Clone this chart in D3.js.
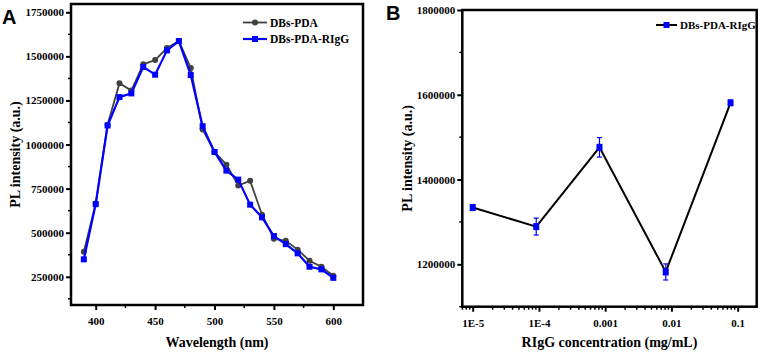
<!DOCTYPE html>
<html><head><meta charset="utf-8">
<script src="https://cdn.jsdelivr.net/npm/d3@7"></script>
<style>
body{margin:0;background:#fff;}
svg{display:block;}
</style></head>
<body><svg id="c" width="761" height="355"></svg>
<script>
// ---- Panel A data ----
const wavelengths = [390,400,410,420,430,440,450,460,470,480,490,500,510,520,530,540,550,560,570,580,590,600];
const dbsPDA      = [392000,666000,1112000,1348000,1306000,1455000,1479000,1547000,1587000,1434000,1085000,958000,886000,768000,794000,602000,466000,454000,404000,341000,307000,256000];
const dbsPDARIgG  = [349000,662000,1108000,1269000,1290000,1440000,1396000,1534000,1587000,1394000,1104000,958000,852000,801000,659000,587000,481000,435000,383000,307000,292000,244000];
const yTicksA = [250000,500000,750000,1000000,1250000,1500000,1750000];
const xTicksA = [400,450,500,550,600];
const seriesNamesA = ["DBs-PDA","DBs-PDA-RIgG"];

// ---- Panel B data ----
const concentrations = [1.0e-5, 9.1e-5, 8.2e-4, 8.2e-3, 7.8e-2];
const intensityB     = [1334000, 1289000, 1476000, 1182000, 1581000];
const errorB         = [7000, 20000, 23000, 19000, 6000];
const yTicksB = [1200000,1400000,1600000,1800000];
const xTicksB = [1e-5,1e-4,1e-3,1e-2,1e-1];
const xTickLabelsB = ["1E-5","1E-4","0.001","0.01","0.1"];
const seriesNameB = "DBs-PDA-RIgG";

const svg = d3.select("#c");
const SERIF = "'Liberation Serif', 'Times New Roman', serif";
const GRAY = "#404040", BLUE = "#0000ff";

function serifText(sel, size){
  return sel.style("font-family",SERIF).style("font-weight","bold").style("font-size",size+"px").attr("fill","#000");
}
function styleAxis(g){
  g.select(".domain").remove();
  g.selectAll(".tick line").attr("stroke","#000").attr("stroke-width",2);
  serifText(g.selectAll(".tick text"), 11);
}
function minorTicks(g, vals, scale, orient, len){
  g.selectAll(null).data(vals).enter().append("line")
    .attr("stroke","#000").attr("stroke-width",1.5)
    .each(function(d){
      const s=d3.select(this);
      if(orient==="left"){ s.attr("x1",0).attr("x2",-len).attr("y1",scale(d)).attr("y2",scale(d)); }
      else { s.attr("y1",0).attr("y2",len).attr("x1",scale(d)).attr("x2",scale(d)); }
    });
}

// ================= Panel A =================
const A = {l:71, r:363, t:4, b:305};
const xA = d3.scaleLinear().domain([379.2,625]).range([A.l,A.r]);
const yA = d3.scaleLinear().domain([90000,1797000]).range([A.b,A.t]);

const gA = svg.append("g");
const ayA = gA.append("g").attr("transform",`translate(${A.l},0)`)
  .call(d3.axisLeft(yA).tickValues(yTicksA).tickSize(5).tickPadding(2).tickFormat(d3.format("d")));
styleAxis(ayA);
minorTicks(ayA, d3.range(125000,1797000,250000), yA, "left", 3);
const axA = gA.append("g").attr("transform",`translate(0,${A.b})`)
  .call(d3.axisBottom(xA).tickValues(xTicksA).tickSize(5).tickPadding(7));
styleAxis(axA);
minorTicks(axA, [425,475,525,575], xA, "bottom", 3);

const lineA = (vals)=>d3.line().x((d,i)=>xA(wavelengths[i])).y(d=>yA(d))(vals);
gA.append("path").attr("d",lineA(dbsPDA)).attr("fill","none").attr("stroke",GRAY).attr("stroke-width",1.8);
gA.selectAll(null).data(dbsPDA).enter().append("circle")
  .attr("cx",(d,i)=>xA(wavelengths[i])).attr("cy",d=>yA(d)).attr("r",3).attr("fill",GRAY);
gA.append("path").attr("d",lineA(dbsPDARIgG)).attr("fill","none").attr("stroke",BLUE).attr("stroke-width",2.2);
gA.selectAll(null).data(dbsPDARIgG).enter().append("rect")
  .attr("x",(d,i)=>xA(wavelengths[i])-3).attr("y",d=>yA(d)-3).attr("width",6).attr("height",6).attr("fill",BLUE);

gA.append("rect").attr("x",A.l).attr("y",A.t).attr("width",A.r-A.l).attr("height",A.b-A.t)
  .attr("fill","none").attr("stroke","#000").attr("stroke-width",2.5);

const legA = gA.append("g");
[[seriesNamesA[0],GRAY,"c",22.5],[seriesNamesA[1],BLUE,"s",39]].forEach(([name,col,m,y])=>{
  legA.append("line").attr("x1",243).attr("x2",267).attr("y1",y).attr("y2",y).attr("stroke",col).attr("stroke-width",m==="c"?1.8:2.2);
  if(m==="c") legA.append("circle").attr("cx",255).attr("cy",y).attr("r",3).attr("fill",col);
  else legA.append("rect").attr("x",252).attr("y",y-3).attr("width",6).attr("height",6).attr("fill",col);
  serifText(legA.append("text").attr("x",270).attr("y",y+4).text(name), 11.5);
});

serifText(gA.append("text").attr("x",(A.l+A.r)/2).attr("y",347).attr("text-anchor","middle").text("Wavelength (nm)"), 14);
serifText(gA.append("text").attr("transform",`translate(20,${(A.t+A.b)/2}) rotate(-90)`).attr("text-anchor","middle").text("PL intensity (a.u.)"), 14);
gA.append("text").attr("x",2).attr("y",24).style("font-family","'Liberation Sans', Arial, sans-serif")
  .style("font-weight","bold").style("font-size","20px").text("A");

// ================= Panel B =================
const B = {l:462.3, r:756.7, t:10, b:306.7};
const xB = d3.scaleLog().domain([Math.pow(10,-5.157),Math.pow(10,-0.713)]).range([B.l,B.r]);
const yB = d3.scaleLinear().domain([1100000,1800000]).range([B.b,B.t]);
const gB = svg.append("g");

const ayB = gB.append("g").attr("transform",`translate(${B.l},0)`)
  .call(d3.axisLeft(yB).tickValues(yTicksB).tickSize(5).tickPadding(2).tickFormat(d3.format("d")));
styleAxis(ayB);
minorTicks(ayB, [1100000,1300000,1500000,1700000], yB, "left", 3);
const axB = gB.append("g").attr("transform",`translate(0,${B.b})`)
  .call(d3.axisBottom(xB).tickValues(xTicksB).tickSize(5).tickPadding(8).tickFormat((d,i)=>xTickLabelsB[i]));
styleAxis(axB);
const minorB = [];
[-6,-5,-4,-3,-2,-1].forEach(e=>{ for(let k=2;k<=9;k++){ const v=k*Math.pow(10,e); if(v>xB.domain()[0]&&v<xB.domain()[1]) minorB.push(v);} });
minorTicks(axB, minorB, xB, "bottom", 3);

gB.append("path").attr("d",d3.line().x((d,i)=>xB(concentrations[i])).y(d=>yB(d))(intensityB))
  .attr("fill","none").attr("stroke","#000").attr("stroke-width",2);
const eb = gB.selectAll(null).data(intensityB).enter().append("g");
eb.append("line").attr("x1",(d,i)=>xB(concentrations[i])).attr("x2",(d,i)=>xB(concentrations[i]))
  .attr("y1",(d,i)=>yB(d-errorB[i])).attr("y2",(d,i)=>yB(d+errorB[i])).attr("stroke",BLUE).attr("stroke-width",1.2);
[1,-1].forEach(sg=>{
  eb.append("line").attr("x1",(d,i)=>xB(concentrations[i])-2.5).attr("x2",(d,i)=>xB(concentrations[i])+2.5)
    .attr("y1",(d,i)=>yB(d+sg*errorB[i])).attr("y2",(d,i)=>yB(d+sg*errorB[i])).attr("stroke",BLUE).attr("stroke-width",1.2);
});
gB.selectAll(null).data(intensityB).enter().append("rect")
  .attr("x",(d,i)=>xB(concentrations[i])-3).attr("y",d=>yB(d)-3.5).attr("width",6).attr("height",7).attr("fill",BLUE);

gB.append("rect").attr("x",B.l).attr("y",B.t).attr("width",B.r-B.l).attr("height",B.b-B.t)
  .attr("fill","none").attr("stroke","#000").attr("stroke-width",2.5);

gB.append("line").attr("x1",656).attr("x2",677).attr("y1",25).attr("y2",25).attr("stroke","#000").attr("stroke-width",2);
gB.append("rect").attr("x",663.5).attr("y",22).attr("width",6).attr("height",6).attr("fill",BLUE);
serifText(gB.append("text").attr("x",680).attr("y",29).text(seriesNameB), 11);

serifText(gB.append("text").attr("x",(B.l+B.r)/2).attr("y",347).attr("text-anchor","middle").text("RIgG concentration (mg/mL)"), 14);
serifText(gB.append("text").attr("transform",`translate(412,${(B.t+B.b)/2}) rotate(-90)`).attr("text-anchor","middle").text("PL intensity (a.u.)"), 14);
gB.append("text").attr("x",386).attr("y",20).style("font-family","'Liberation Sans', Arial, sans-serif")
  .style("font-weight","bold").style("font-size","20px").text("B");
</script></body></html>
